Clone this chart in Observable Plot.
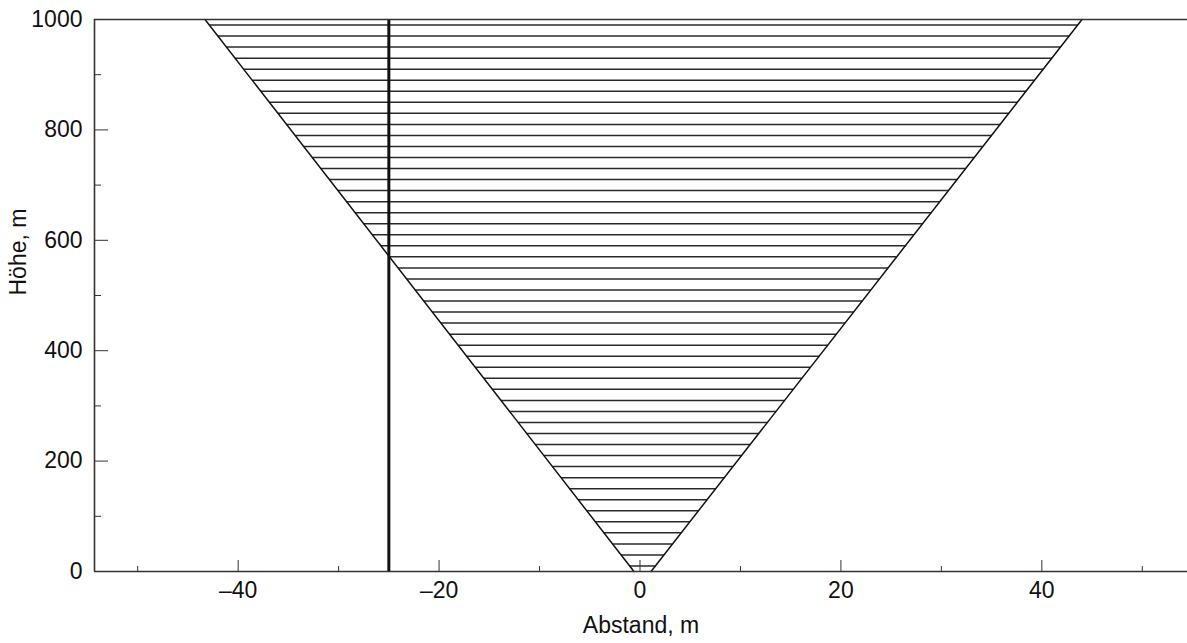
<!DOCTYPE html>
<html>
<head>
<meta charset="utf-8">
<script src="https://cdn.jsdelivr.net/npm/d3@7"></script>
<script src="https://cdn.jsdelivr.net/npm/@observablehq/plot@0.6"></script>
<style>
  html, body { margin: 0; padding: 0; background: #fff; }
</style>
</head>
<body>
<div id="chart"></div>
<script>
// ---- data ----
const edgeHeights = [0, 1000];          // Höhe, m at the ends of the V edges
const leftEdgeX = [-0.6, -43.3];         // Abstand, m of the left edge
const rightEdgeX = [1.1, 44.0];          // Abstand, m of the right edge
const hatchHeights = [10, 30, 50, 70, 90, 110, 130, 150, 170, 190,
  210, 230, 250, 270, 290, 310, 330, 350, 370, 390,
  410, 430, 450, 470, 490, 510, 530, 550, 570, 590,
  610, 630, 650, 670, 690, 710, 730, 750, 770, 790,
  810, 830, 850, 870, 890, 910, 930, 950, 970, 990];
const wellX = [-25];
const wellBottom = 0;
const wellTop = 1000;
const xDomain = [-54.3, 54.5];
const yDomain = [0, 1000];
const xTickValues = [-40, -20, 0, 20, 40];
const xMinorTicks = [-50, -30, -10, 10, 30, 50];
const yTickValues = [0, 200, 400, 600, 800, 1000];
const yMinorTicks = [100, 300, 500, 700, 900];
const xLabel = "Abstand, m";
const yLabel = "Höhe, m";

// ---- tables built from the arrays ----
const leftEdge = edgeHeights.map((h, i) => ({h, x: leftEdgeX[i]}));
const rightEdge = edgeHeights.map((h, i) => ({h, x: rightEdgeX[i]}));
const leftAt = d3.scaleLinear(edgeHeights, leftEdgeX);
const rightAt = d3.scaleLinear(edgeHeights, rightEdgeX);
const hatch = hatchHeights.map(h => ({h, x1: leftAt(h), x2: rightAt(h)}));

const font = "'Liberation Sans', Arial, Helvetica, sans-serif";
const fmtX = d => (d < 0 ? "\u2013" : "") + Math.abs(d);
const fmtY = d => String(d);

const chart = Plot.plot({
  width: 1187,
  height: 643,
  marginTop: 19,
  marginBottom: 72,
  marginLeft: 94,
  marginRight: 0,
  x: {domain: xDomain},
  y: {domain: yDomain},
  style: {fontFamily: font, fontSize: "23px", color: "#111", background: "#fff"},
  marks: [
    Plot.link(hatch, {x1: "x1", x2: "x2", y1: "h", y2: "h", stroke: "#2a2a2a", strokeWidth: 1.5}),
    Plot.line(leftEdge, {x: "x", y: "h", stroke: "#111", strokeWidth: 1.5}),
    Plot.line(rightEdge, {x: "x", y: "h", stroke: "#111", strokeWidth: 1.5}),
    Plot.ruleX(wellX, {y1: wellBottom, y2: wellTop, stroke: "#111", strokeWidth: 3}),
    Plot.ruleY([yDomain[0], yDomain[1]], {stroke: "#333", strokeWidth: 1.6}),
    Plot.ruleX([xDomain[0]], {stroke: "#333", strokeWidth: 1.6}),
    Plot.axisX(xTickValues, {anchor: "bottom", tickSize: -11, tickPadding: 21, fontSize: 23, tickFormat: fmtX, label: null, stroke: "#333"}),
    Plot.axisX(xMinorTicks, {anchor: "bottom", tickSize: -5, tickFormat: () => "", label: null, stroke: "#333"}),
    Plot.axisY(yTickValues, {anchor: "left", tickSize: -14, tickPadding: 26, fontSize: 23, tickFormat: fmtY, label: null, stroke: "#333"}),
    Plot.axisY(yMinorTicks, {anchor: "left", tickSize: -7, tickFormat: () => "", label: null, stroke: "#333"}),
    Plot.text([xLabel], {frameAnchor: "bottom", dy: 61, fontSize: 23, fill: "#111"}),
    Plot.text([yLabel], {frameAnchor: "left", dx: -76, rotate: -90, fontSize: 23, fill: "#111"})
  ]
});
document.getElementById("chart").appendChild(chart);
</script>
</body>
</html>
